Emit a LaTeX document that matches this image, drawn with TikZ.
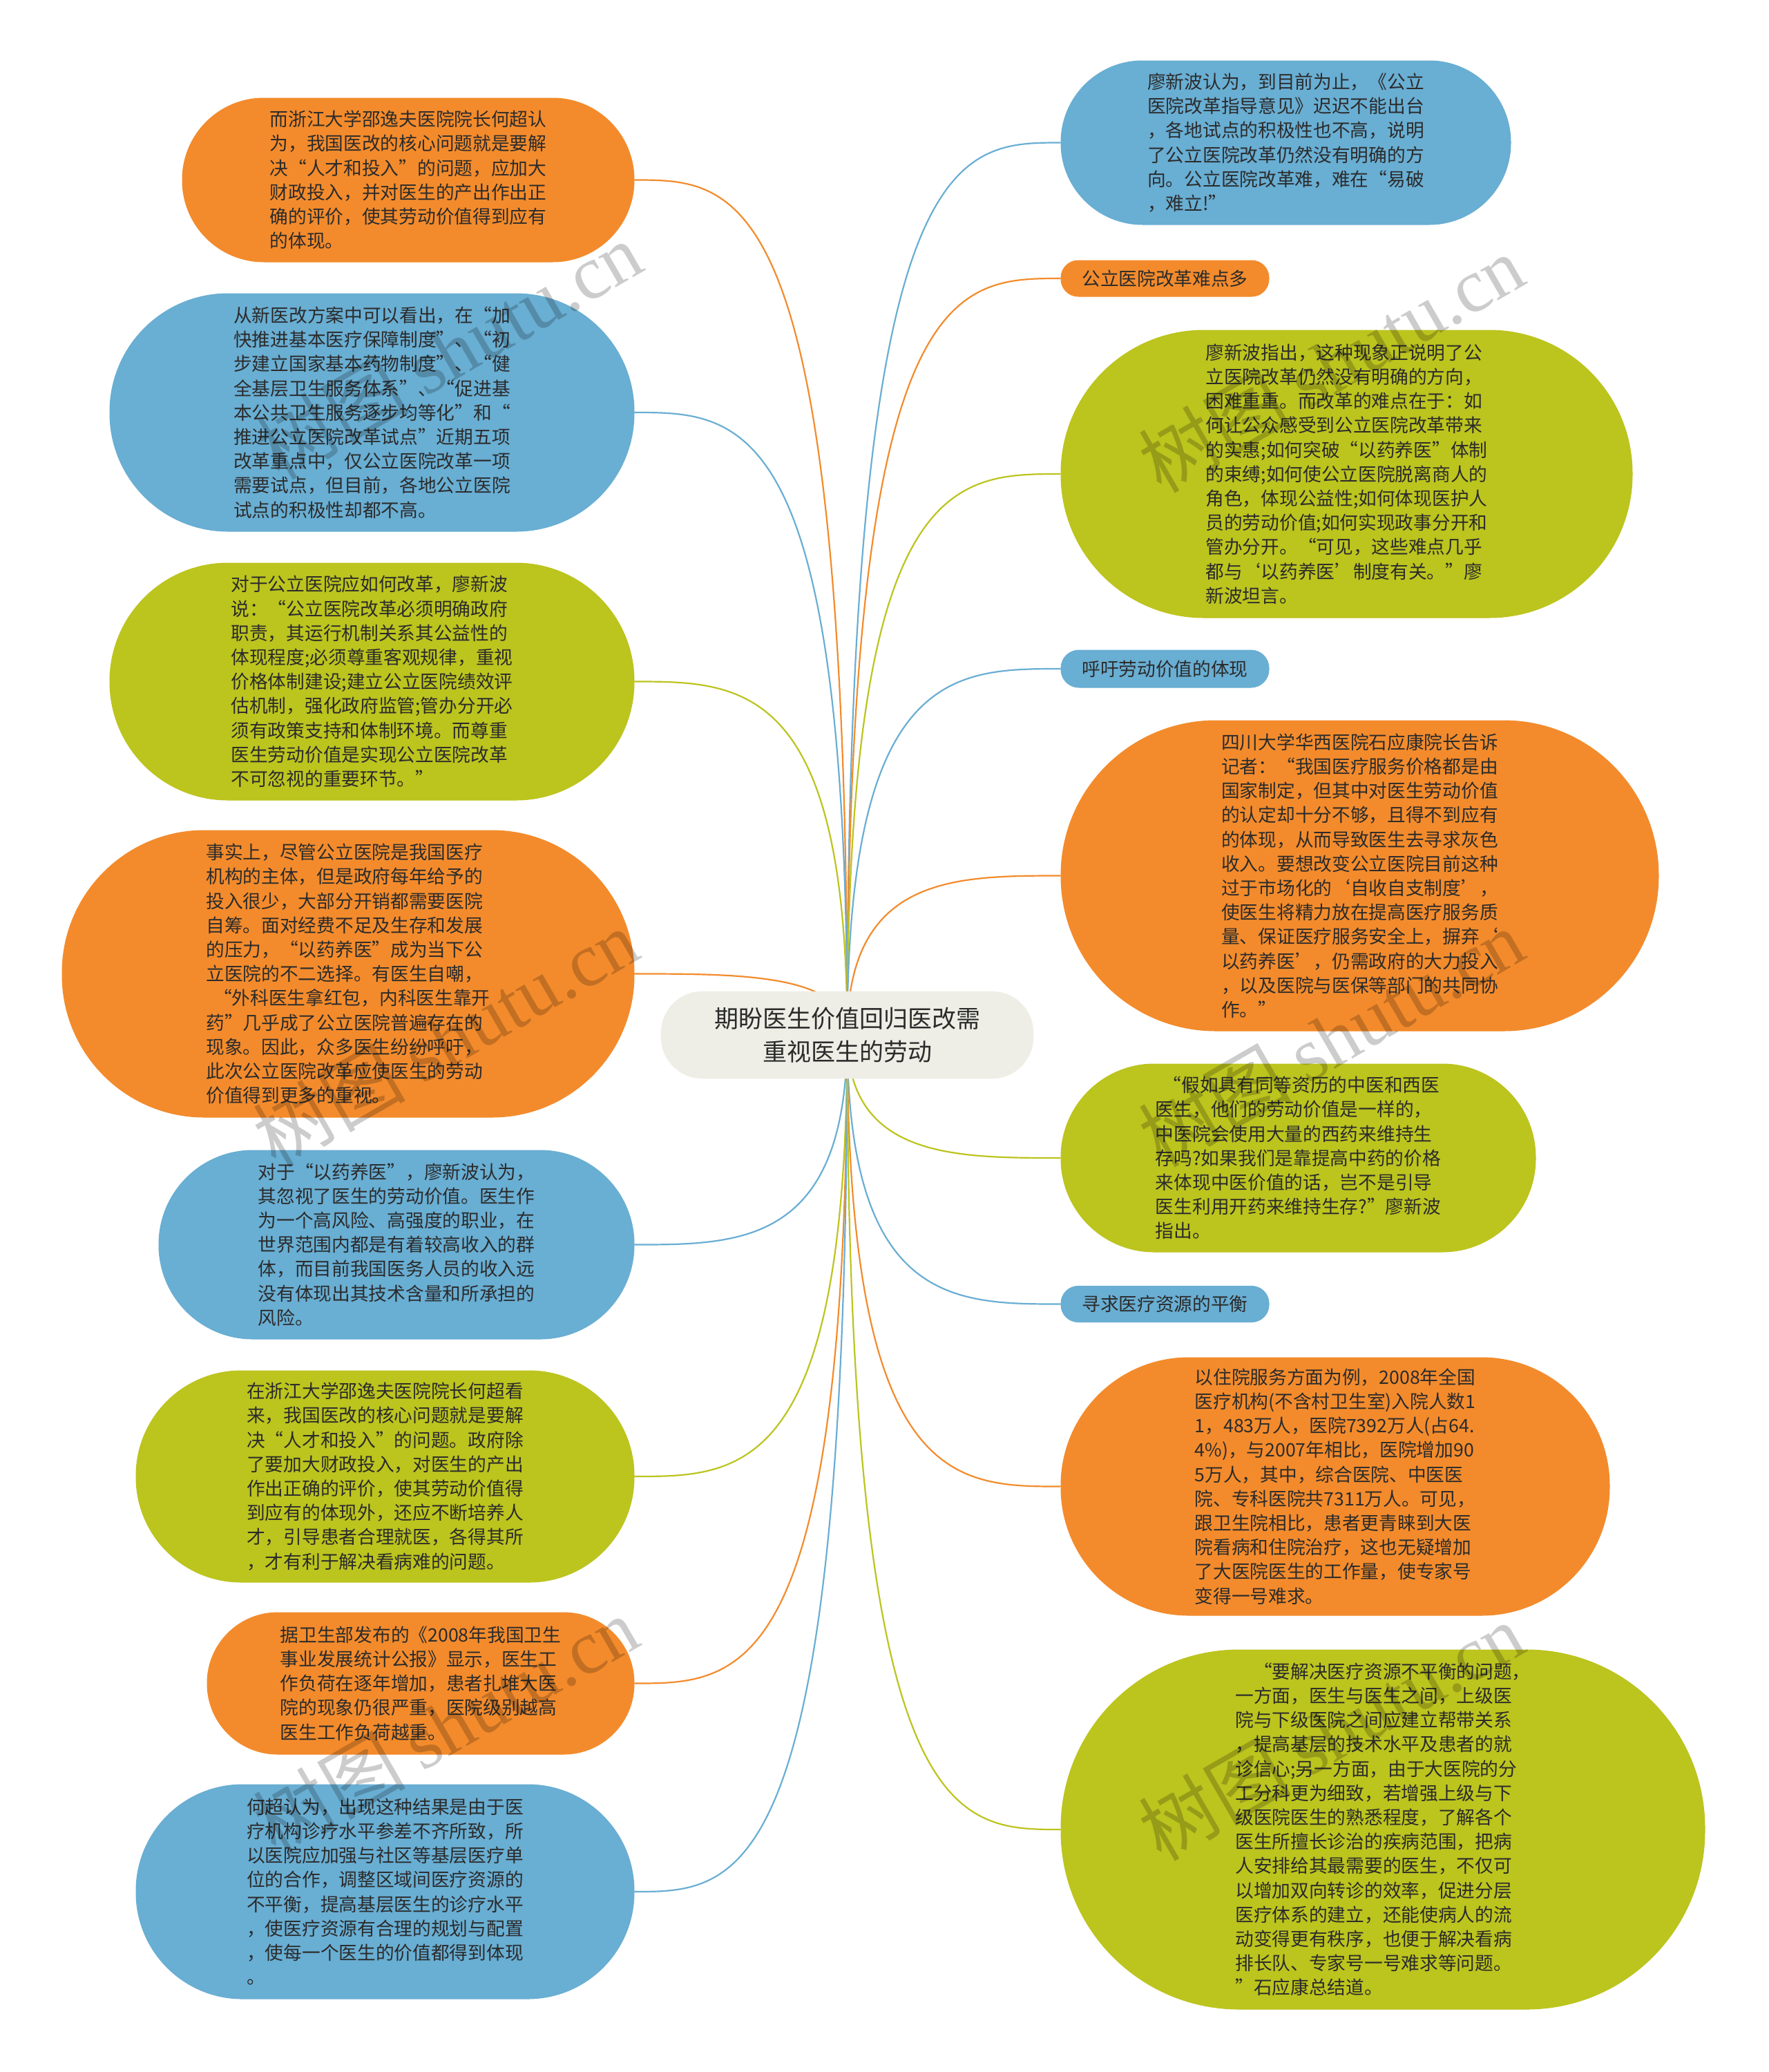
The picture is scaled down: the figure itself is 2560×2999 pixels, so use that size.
\documentclass[tikz,border=0pt]{standalone}
\usepackage{fontspec}
\setmainfont{Noto Sans CJK SC}
\newfontfamily\wmserif{Liberation Serif}
\usetikzlibrary{backgrounds,calc}
\definecolor{corange}{HTML}{F38B2C}
\definecolor{cblue}{HTML}{69AED3}
\definecolor{cgreen}{HTML}{BCC41E}
\definecolor{ccenter}{HTML}{EEEEE6}
\definecolor{ctext}{HTML}{2B2B2B}
\tikzset{
  bub/.style={rectangle, fill=#1, draw=#1, line width=1pt, align=left, text=ctext,
    inner sep=0pt, font=\fontsize{26.7}{35.2}\selectfont},
  conn/.style={draw=#1, line width=2.2pt},
  wm/.style={rotate=30, text=black, opacity=0.2, inner sep=0pt, font=\fontsize{110}{110}\selectfont}
}
\newcommand\linkto[3]{\draw[conn=#1] (c.center) .. controls (c.center |- #2.#3) and ($(#2.#3)!0.5!(c.center |- #2.#3)$) .. (#2.#3);}
\begin{document}
\begin{tikzpicture}[x=1pt,y=-1pt]
\useasboundingbox (0,0) rectangle (2560,2999);

% center
\node[rectangle, fill=ccenter, draw=ccenter, rounded corners=60pt, minimum width=539pt,
  minimum height=126pt, align=center, text=ctext, font=\fontsize{35}{48}\selectfont]
  (c) at (1226.5,1498) {期盼医生价值回归医改需\\重视医生的劳动};

% left column
\node[bub=corange, minimum width=654pt, minimum height=237pt, rounded corners=118pt] (L1) at (591,260.5)
{而浙江大学邵逸夫医院院长何超认\\为，我国医改的核心问题就是要解\\决“人才和投入”的问题，应加大\\财政投入，并对医生的产出作出正\\确的评价，使其劳动价值得到应有\\的体现。};

\node[bub=cblue, minimum width=759pt, minimum height=344pt, rounded corners=171pt] (L2) at (538.5,597)
{从新医改方案中可以看出，在“加\\快推进基本医疗保障制度”、“初\\步建立国家基本药物制度”、“健\\全基层卫生服务体系”、“促进基\\本公共卫生服务逐步均等化”和“\\推进公立医院改革试点”近期五项\\改革重点中，仅公立医院改革一项\\需要试点，但目前，各地公立医院\\试点的积极性却都不高。};

\node[bub=cgreen, minimum width=759pt, minimum height=343pt, rounded corners=171pt] (L3) at (538.5,986.5)
{对于公立医院应如何改革，廖新波\\说：“公立医院改革必须明确政府\\职责，其运行机制关系其公益性的\\体现程度;必须尊重客观规律，重视\\价格体制建设;建立公立医院绩效评\\估机制，强化政府监管;管办分开必\\须有政策支持和体制环境。而尊重\\医生劳动价值是实现公立医院改革\\不可忽视的重要环节。”};

\node[bub=corange, minimum width=828pt, minimum height=415pt, rounded corners=206pt] (L4) at (504,1409.5)
{事实上，尽管公立医院是我国医疗\\机构的主体，但是政府每年给予的\\投入很少，大部分开销都需要医院\\自筹。面对经费不足及生存和发展\\的压力，“以药养医”成为当下公\\立医院的不二选择。有医生自嘲，\\\hspace*{0.4em}“外科医生拿红包，内科医生靠开\\药”几乎成了公立医院普遍存在的\\现象。因此，众多医生纷纷呼吁，\\此次公立医院改革应使医生的劳动\\价值得到更多的重视。};

\node[bub=cblue, minimum width=688pt, minimum height=273pt, rounded corners=136pt] (L5) at (574,1801.5)
{对于“以药养医”，廖新波认为，\\其忽视了医生的劳动价值。医生作\\为一个高风险、高强度的职业，在\\世界范围内都是有着较高收入的群\\体，而目前我国医务人员的收入远\\没有体现出其技术含量和所承担的\\风险。};

\node[bub=cgreen, minimum width=721pt, minimum height=306pt, rounded corners=152pt] (L6) at (557.5,2137)
{在浙江大学邵逸夫医院院长何超看\\来，我国医改的核心问题就是要解\\决“人才和投入”的问题。政府除\\了要加大财政投入，对医生的产出\\作出正确的评价，使其劳动价值得\\到应有的体现外，还应不断培养人\\才，引导患者合理就医，各得其所\\，才有利于解决看病难的问题。};

\node[bub=corange, minimum width=618pt, minimum height=205pt, rounded corners=102pt] (L7) at (609,2436.5)
{据卫生部发布的《2008年我国卫生\\事业发展统计公报》显示，医生工\\作负荷在逐年增加，患者扎堆大医\\院的现象仍很严重，医院级别越高\\医生工作负荷越重。};

\node[bub=cblue, minimum width=721pt, minimum height=310pt, rounded corners=154pt] (L8) at (557.5,2738)
{何超认为，出现这种结果是由于医\\疗机构诊疗水平参差不齐所致，所\\以医院应加强与社区等基层医疗单\\位的合作，调整区域间医疗资源的\\不平衡，提高基层医生的诊疗水平\\，使医疗资源有合理的规划与配置\\，使每一个医生的价值都得到体现\\。};

% right column
\node[bub=cblue, minimum width=651pt, minimum height=237pt, rounded corners=118pt] (R1) at (1861.5,206.5)
{廖新波认为，到目前为止，《公立\\医院改革指导意见》迟迟不能出台\\，各地试点的积极性也不高，说明\\了公立医院改革仍然没有明确的方\\向。公立医院改革难，难在“易破\\，难立!”};

\node[bub=corange, minimum width=301pt, minimum height=52pt, rounded corners=25pt, align=center] (R2) at (1686.5,403)
{公立医院改革难点多};

\node[bub=cgreen, minimum width=827pt, minimum height=416pt, rounded corners=207pt] (R3) at (1949.5,686)
{廖新波指出，这种现象正说明了公\\立医院改革仍然没有明确的方向，\\困难重重。而改革的难点在于：如\\何让公众感受到公立医院改革带来\\的实惠;如何突破“以药养医”体制\\的束缚;如何使公立医院脱离商人的\\角色，体现公益性;如何体现医护人\\员的劳动价值;如何实现政事分开和\\管办分开。“可见，这些难点几乎\\都与‘以药养医’制度有关。”廖\\新波坦言。};

\node[bub=cblue, minimum width=301pt, minimum height=54pt, rounded corners=26pt, align=center] (R4) at (1686.5,968)
{呼吁劳动价值的体现};

\node[bub=corange, minimum width=865pt, minimum height=449pt, rounded corners=224pt] (R5) at (1968.5,1267.5)
{四川大学华西医院石应康院长告诉\\记者：“我国医疗服务价格都是由\\国家制定，但其中对医生劳动价值\\的认定却十分不够，且得不到应有\\的体现，从而导致医生去寻求灰色\\收入。要想改变公立医院目前这种\\过于市场化的‘自收自支制度’，\\使医生将精力放在提高医疗服务质\\量、保证医疗服务安全上，摒弃‘\\以药养医’，仍需政府的大力投入\\，以及医院与医保等部门的共同协\\作。”};

\node[bub=cgreen, minimum width=687pt, minimum height=272pt, rounded corners=135pt] (R6) at (1879.5,1676)
{\hspace*{0.4em}“假如具有同等资历的中医和西医\\医生，他们的劳动价值是一样的，\\中医院会使用大量的西药来维持生\\存吗?如果我们是靠提高中药的价格\\来体现中医价值的话，岂不是引导\\医生利用开药来维持生存?”廖新波\\指出。};

\node[bub=cblue, minimum width=301pt, minimum height=52pt, rounded corners=25pt, align=center] (R7) at (1686.5,1887.5)
{寻求医疗资源的平衡};

\node[bub=corange, minimum width=794pt, minimum height=373pt, rounded corners=185pt] (R8) at (1933,2151.5)
{以住院服务方面为例，2008年全国\\医疗机构(不含村卫生室)入院人数1\\1，483万人，医院7392万人(占64.\\4\%)，与2007年相比，医院增加90\\5万人，其中，综合医院、中医医\\院、专科医院共7311万人。可见，\\跟卫生院相比，患者更青睐到大医\\院看病和住院治疗，这也无疑增加\\了大医院医生的工作量，使专家号\\变得一号难求。};

\node[bub=cgreen, minimum width=932pt, minimum height=520pt, rounded corners=258pt] (R9) at (2002,2648)
{\hspace*{1em}“要解决医疗资源不平衡的问题，\\一方面，医生与医生之间，上级医\\院与下级医院之间应建立帮带关系\\，提高基层的技术水平及患者的就\\诊信心;另一方面，由于大医院的分\\工分科更为细致，若增强上级与下\\级医院医生的熟悉程度，了解各个\\医生所擅长诊治的疾病范围，把病\\人安排给其最需要的医生，不仅可\\以增加双向转诊的效率，促进分层\\医疗体系的建立，还能使病人的流\\动变得更有秩序，也便于解决看病\\排长队、专家号一号难求等问题。\\”石应康总结道。};

% connectors
\begin{pgfonlayer}{background}
\fill[white] (0,0) rectangle (2560,2999);
\linkto{corange}{L1}{east}
\linkto{cblue}{L2}{east}
\linkto{cgreen}{L3}{east}
\linkto{corange}{L4}{east}
\linkto{cblue}{L5}{east}
\linkto{cgreen}{L6}{east}
\linkto{corange}{L7}{east}
\linkto{cblue}{L8}{east}
\linkto{cblue}{R1}{west}
\linkto{corange}{R2}{west}
\linkto{cgreen}{R3}{west}
\linkto{cblue}{R4}{west}
\linkto{corange}{R5}{west}
\linkto{cgreen}{R6}{west}
\linkto{cblue}{R7}{west}
\linkto{corange}{R8}{west}
\linkto{cgreen}{R9}{west}
\end{pgfonlayer}

% watermarks
\node[wm] (wm1) at (650,507) {树图 {\wmserif shutu.cn}};
\node[wm] (wm2) at (1927,526) {树图 {\wmserif shutu.cn}};
\node[wm] (wm3) at (645,1502) {树图 {\wmserif shutu.cn}};
\node[wm] (wm4) at (1927,1502) {树图 {\wmserif shutu.cn}};
\node[wm] (wm5) at (645,2497) {树图 {\wmserif shutu.cn}};
\node[wm] (wm6) at (1927,2506) {树图 {\wmserif shutu.cn}};
\end{tikzpicture}
\end{document}
